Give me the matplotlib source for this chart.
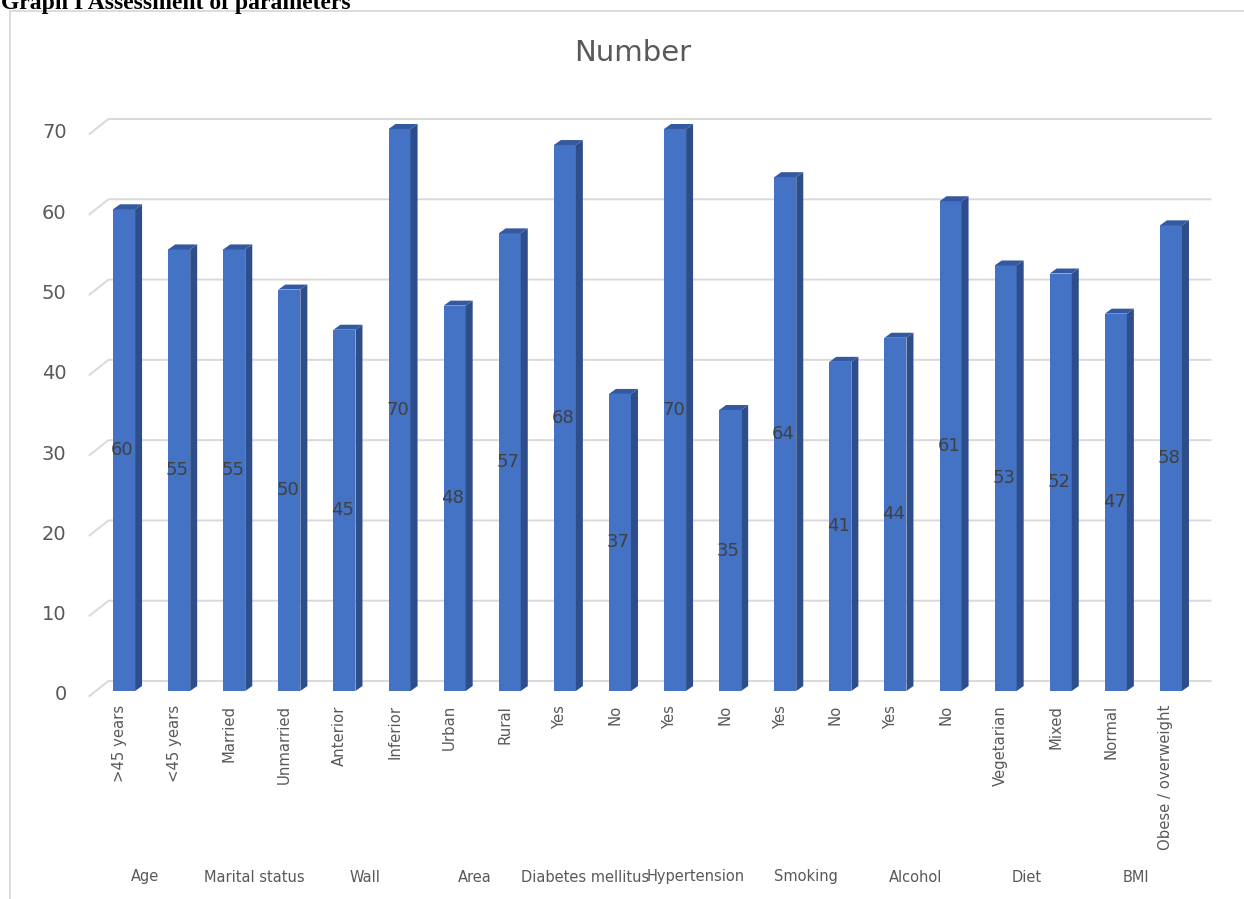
import matplotlib
matplotlib.use("Agg")
import matplotlib.pyplot as plt
from matplotlib.transforms import ScaledTranslation
from matplotlib.patches import Polygon
from matplotlib.lines import Line2D
import numpy as np

# ---- data ----
categories = [">45 years", "<45 years", "Married", "Unmarried", "Anterior", "Inferior",
              "Urban", "Rural", "Yes", "No", "Yes", "No", "Yes", "No", "Yes", "No",
              "Vegetarian", "Mixed", "Normal", "Obese / overweight"]
values = [60, 55, 55, 50, 45, 70, 48, 57, 68, 37, 70, 35, 64, 41, 44, 61, 53, 52, 47, 58]
groups = ["Age", "Marital status", "Wall", "Area", "Diabetes mellitus", "Hypertension",
          "Smoking", "Alcohol", "Diet", "BMI"]
yticks = [0, 10, 20, 30, 40, 50, 60, 70]
chart_title = "Number"
caption = "Graph I Assessment of parameters"

W, H, DPI = 1244, 899, 100
fig = plt.figure(figsize=(W / DPI, H / DPI), dpi=DPI)
fig.patch.set_facecolor("white")

ax = fig.add_axes([96.5 / W, (H - 691) / H, 1102 / W, 562 / H])
ax.set_xlim(-0.5, len(values) - 0.5)
ax.set_ylim(0, 70)
ax.set_axis_off()

x = np.arange(len(values))
bw = 0.4
front_col = "#4472C4"
side_col = "#2D4E8A"
top_col = "#3559A0"
grid_col = "#d9d9d9"
txt_col = "#595959"

inv = fig.transFigure.inverted()


def fpt(xd, yd, dx=0.0, dy=0.0):
    p = ax.transData.transform((xd, yd))
    return inv.transform((p[0] + dx, p[1] + dy))


# gridlines (3D style: diagonal + back wall)
FOFF = (-7, -5)
BOFF = (12, 10)
for v in yticks:
    p0 = fpt(-0.5, v, *FOFF)
    p1 = fpt(-0.5, v, *BOFF)
    p2 = fpt(len(values) - 0.5, v, *BOFF)
    ax.add_line(Line2D([p0[0], p1[0], p2[0]], [p0[1], p1[1], p2[1]],
                       transform=fig.transFigure, color=grid_col, lw=1.4,
                       zorder=1, clip_on=False))

# bars: front faces
ax.bar(x, values, width=bw, color=front_col, zorder=3, linewidth=0)

# side and top faces
DX, DY = 7, 5
for xi, v in zip(x, values):
    side = [fpt(xi + bw / 2, 0), fpt(xi + bw / 2, v),
            fpt(xi + bw / 2, v, DX, DY), fpt(xi + bw / 2, 0, DX, DY)]
    ax.add_patch(Polygon(side, closed=True, transform=fig.transFigure,
                         facecolor=side_col, edgecolor="none", zorder=3, clip_on=False))
    top = [fpt(xi - bw / 2, v), fpt(xi + bw / 2, v),
           fpt(xi + bw / 2, v, DX, DY), fpt(xi - bw / 2, v, DX, DY)]
    ax.add_patch(Polygon(top, closed=True, transform=fig.transFigure,
                         facecolor=top_col, edgecolor="none", zorder=3, clip_on=False))
    # data label
    ax.text(xi - 0.03, v / 2, str(v), ha="center", va="center", fontsize=13,
            color="#404040", zorder=5)

# y tick labels
ytr = ax.get_yaxis_transform() + ScaledTranslation(-30 / DPI, -4 / DPI, fig.dpi_scale_trans)
for v in yticks:
    ax.text(0, v, str(v), transform=ytr, ha="right", va="center", fontsize=14, color=txt_col)

# x tick labels (rotated)
xtr = ax.get_xaxis_transform() + ScaledTranslation(-5 / DPI, -14 / DPI, fig.dpi_scale_trans)
for xi, lab in zip(x, categories):
    ax.text(xi, 0, lab, transform=xtr, rotation=90, ha="center", va="top",
            fontsize=10.7, color=txt_col)

# group labels
gtr = ax.get_xaxis_transform() + ScaledTranslation(-7 / DPI, -186 / DPI, fig.dpi_scale_trans)
for gi, g in enumerate(groups):
    ax.text(2 * gi + 0.5, 0, g, transform=gtr, ha="center", va="center",
            fontsize=10.5, color=txt_col)

# chart title
fig.text(633 / W, 1 - 53 / H, chart_title, ha="center", va="center", fontsize=21, color=txt_col)

# chart border
fig.add_artist(Line2D([10 / W, 10 / W], [0, 1 - 11 / H], transform=fig.transFigure,
                      color=grid_col, lw=1.3))
fig.add_artist(Line2D([10 / W, 1], [1 - 11 / H, 1 - 11 / H], transform=fig.transFigure,
                      color=grid_col, lw=1.3))

# caption (partially cut at top)
fig.text(1 / W, 1 - 9 / H, caption, ha="left", va="baseline", fontsize=17,
         fontweight="bold", family=["Liberation Serif", "DejaVu Serif"], color="black")

fig.savefig("out.png", dpi=DPI)
